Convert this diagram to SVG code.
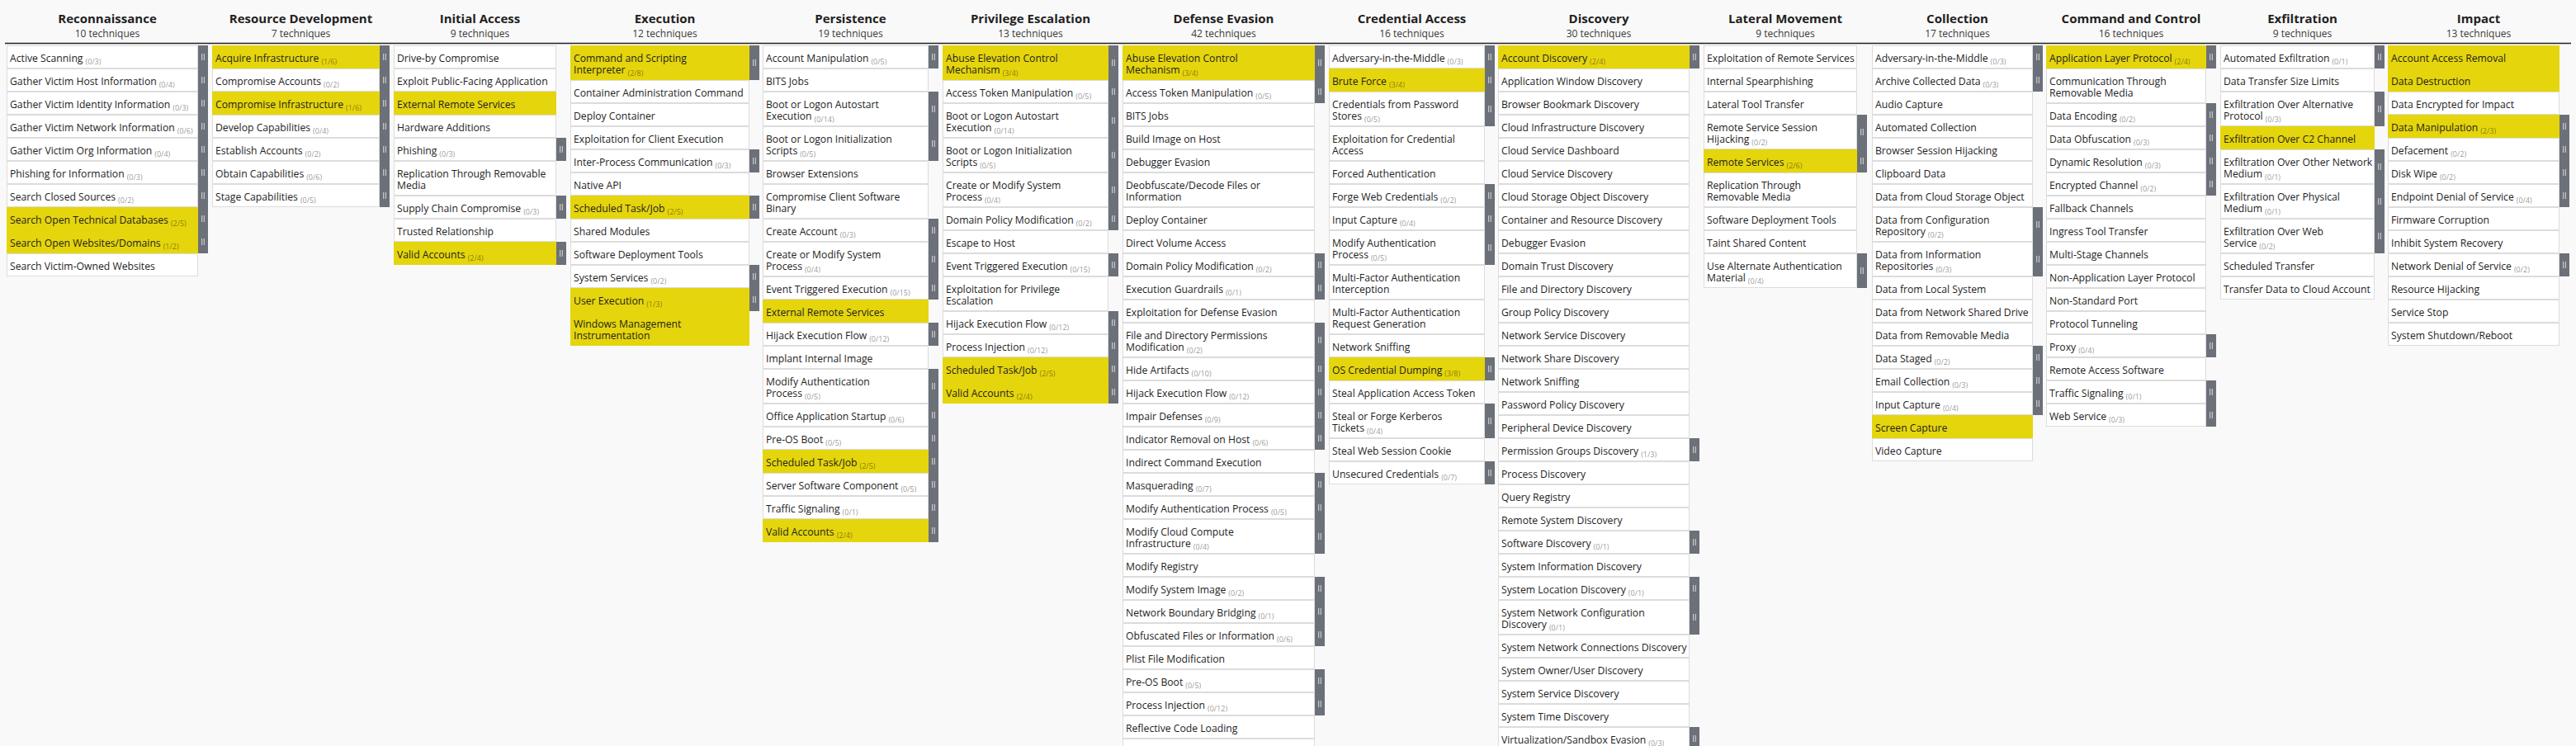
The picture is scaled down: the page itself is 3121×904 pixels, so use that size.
<svg xmlns="http://www.w3.org/2000/svg" width="3121" height="904" viewBox="0 0 3121 904">
<style>
.c{fill:#fff;stroke:#dcdcdc;stroke-width:1}
.y{fill:#e5d50c}
.sb{fill:#6c7079}
text{font-family:"Open Sans","Noto Sans",sans-serif}
.t{font-size:12.2px;fill:#1e1e1e}
.n{font-size:9px;fill:#000;fill-opacity:.45}
.h{font-size:15px;font-weight:700;text-anchor:middle;fill:#212121}
.s{font-size:12px;text-anchor:middle;fill:#3a3a3a}
</style>
<defs><g id="g"><path d="M-1.3-4v8M1.3-4v8" stroke="#dadada" stroke-width="1" fill="none"/></g></defs>
<rect width="3121" height="904" fill="#f9f9f9"/>
<line x1="6" y1="52.5" x2="3115" y2="52.5" stroke="#222" stroke-width="1.5"/>

<g id="col-reconnaissance" transform="translate(8,0)">
<g id="h-reconnaissance"><text class="h" x="122" y="28">Reconnaissance</text><text class="s" x="122" y="45">10 techniques</text></g>
<g id="rc-1" transform="translate(0,55)"><rect class="c" x=".5" y=".5" width="231" height="27"/><rect class="sb" x="232" width="12" height="28"/><use href="#g" x="238" y="14"/><text class="t" x="4" y="19.5">Active Scanning<tspan class="n" dx="3" dy="3">(0/3)</tspan></text></g>
<g id="rc-2" transform="translate(0,83)"><rect class="c" x=".5" y=".5" width="231" height="27"/><rect class="sb" x="232" width="12" height="28"/><use href="#g" x="238" y="14"/><text class="t" x="4" y="19.5">Gather Victim Host Information<tspan class="n" dx="3" dy="3">(0/4)</tspan></text></g>
<g id="rc-3" transform="translate(0,111)"><rect class="c" x=".5" y=".5" width="231" height="27"/><rect class="sb" x="232" width="12" height="28"/><use href="#g" x="238" y="14"/><text class="t" x="4" y="19.5">Gather Victim Identity Information<tspan class="n" dx="3" dy="3">(0/3)</tspan></text></g>
<g id="rc-4" transform="translate(0,139)"><rect class="c" x=".5" y=".5" width="231" height="27"/><rect class="sb" x="232" width="12" height="28"/><use href="#g" x="238" y="14"/><text class="t" x="4" y="19.5">Gather Victim Network Information<tspan class="n" dx="3" dy="3">(0/6)</tspan></text></g>
<g id="rc-5" transform="translate(0,167)"><rect class="c" x=".5" y=".5" width="231" height="27"/><rect class="sb" x="232" width="12" height="28"/><use href="#g" x="238" y="14"/><text class="t" x="4" y="19.5">Gather Victim Org Information<tspan class="n" dx="3" dy="3">(0/4)</tspan></text></g>
<g id="rc-6" transform="translate(0,195)"><rect class="c" x=".5" y=".5" width="231" height="27"/><rect class="sb" x="232" width="12" height="28"/><use href="#g" x="238" y="14"/><text class="t" x="4" y="19.5">Phishing for Information<tspan class="n" dx="3" dy="3">(0/3)</tspan></text></g>
<g id="rc-7" transform="translate(0,223)"><rect class="c" x=".5" y=".5" width="231" height="27"/><rect class="sb" x="232" width="12" height="28"/><use href="#g" x="238" y="14"/><text class="t" x="4" y="19.5">Search Closed Sources<tspan class="n" dx="3" dy="3">(0/2)</tspan></text></g>
<g id="rc-8" transform="translate(0,251)"><rect class="y" width="232" height="28"/><rect class="sb" x="232" width="12" height="28"/><use href="#g" x="238" y="14"/><text class="t" x="4" y="19.5">Search Open Technical Databases<tspan class="n" dx="3" dy="3">(2/5)</tspan></text></g>
<g id="rc-9" transform="translate(0,279)"><rect class="y" width="232" height="28"/><rect class="sb" x="232" width="12" height="28"/><use href="#g" x="238" y="14"/><text class="t" x="4" y="19.5">Search Open Websites/Domains<tspan class="n" dx="3" dy="3">(1/2)</tspan></text></g>
<g id="rc-10" transform="translate(0,307)"><rect class="c" x=".5" y=".5" width="231" height="27"/><text class="t" x="4" y="19.5">Search Victim-Owned Websites</text></g>
</g>

<g id="col-resource-development" transform="translate(257,0)">
<g id="h-resource-development"><text class="h" x="107.5" y="28">Resource Development</text><text class="s" x="107.5" y="45">7 techniques</text></g>
<g id="rd-1" transform="translate(0,55)"><rect class="y" width="203" height="28"/><rect class="sb" x="203" width="12" height="28"/><use href="#g" x="209" y="14"/><text class="t" x="4" y="19.5">Acquire Infrastructure<tspan class="n" dx="3" dy="3">(1/6)</tspan></text></g>
<g id="rd-2" transform="translate(0,83)"><rect class="c" x=".5" y=".5" width="202" height="27"/><rect class="sb" x="203" width="12" height="28"/><use href="#g" x="209" y="14"/><text class="t" x="4" y="19.5">Compromise Accounts<tspan class="n" dx="3" dy="3">(0/2)</tspan></text></g>
<g id="rd-3" transform="translate(0,111)"><rect class="y" width="203" height="28"/><rect class="sb" x="203" width="12" height="28"/><use href="#g" x="209" y="14"/><text class="t" x="4" y="19.5">Compromise Infrastructure<tspan class="n" dx="3" dy="3">(1/6)</tspan></text></g>
<g id="rd-4" transform="translate(0,139)"><rect class="c" x=".5" y=".5" width="202" height="27"/><rect class="sb" x="203" width="12" height="28"/><use href="#g" x="209" y="14"/><text class="t" x="4" y="19.5">Develop Capabilities<tspan class="n" dx="3" dy="3">(0/4)</tspan></text></g>
<g id="rd-5" transform="translate(0,167)"><rect class="c" x=".5" y=".5" width="202" height="27"/><rect class="sb" x="203" width="12" height="28"/><use href="#g" x="209" y="14"/><text class="t" x="4" y="19.5">Establish Accounts<tspan class="n" dx="3" dy="3">(0/2)</tspan></text></g>
<g id="rd-6" transform="translate(0,195)"><rect class="c" x=".5" y=".5" width="202" height="27"/><rect class="sb" x="203" width="12" height="28"/><use href="#g" x="209" y="14"/><text class="t" x="4" y="19.5">Obtain Capabilities<tspan class="n" dx="3" dy="3">(0/6)</tspan></text></g>
<g id="rd-7" transform="translate(0,223)"><rect class="c" x=".5" y=".5" width="202" height="27"/><rect class="sb" x="203" width="12" height="28"/><use href="#g" x="209" y="14"/><text class="t" x="4" y="19.5">Stage Capabilities<tspan class="n" dx="3" dy="3">(0/5)</tspan></text></g>
</g>

<g id="col-initial-access" transform="translate(477,0)">
<g id="h-initial-access"><text class="h" x="104.5" y="28">Initial Access</text><text class="s" x="104.5" y="45">9 techniques</text></g>
<g id="ia-1" transform="translate(0,55)"><rect class="c" x=".5" y=".5" width="196" height="27"/><text class="t" x="4" y="19.5">Drive-by Compromise</text></g>
<g id="ia-2" transform="translate(0,83)"><rect class="c" x=".5" y=".5" width="196" height="27"/><text class="t" x="4" y="19.5">Exploit Public-Facing Application</text></g>
<g id="ia-3" transform="translate(0,111)"><rect class="y" width="197" height="28"/><text class="t" x="4" y="19.5">External Remote Services</text></g>
<g id="ia-4" transform="translate(0,139)"><rect class="c" x=".5" y=".5" width="196" height="27"/><text class="t" x="4" y="19.5">Hardware Additions</text></g>
<g id="ia-5" transform="translate(0,167)"><rect class="c" x=".5" y=".5" width="196" height="27"/><rect class="sb" x="197" width="12" height="28"/><use href="#g" x="203" y="14"/><text class="t" x="4" y="19.5">Phishing<tspan class="n" dx="3" dy="3">(0/3)</tspan></text></g>
<g id="ia-6" transform="translate(0,195)"><rect class="c" x=".5" y=".5" width="196" height="41"/><text class="t" x="4" y="19.5">Replication Through Removable<tspan x="4" dy="14">Media</tspan></text></g>
<g id="ia-7" transform="translate(0,237)"><rect class="c" x=".5" y=".5" width="196" height="27"/><rect class="sb" x="197" width="12" height="28"/><use href="#g" x="203" y="14"/><text class="t" x="4" y="19.5">Supply Chain Compromise<tspan class="n" dx="3" dy="3">(0/3)</tspan></text></g>
<g id="ia-8" transform="translate(0,265)"><rect class="c" x=".5" y=".5" width="196" height="27"/><text class="t" x="4" y="19.5">Trusted Relationship</text></g>
<g id="ia-9" transform="translate(0,293)"><rect class="y" width="197" height="28"/><rect class="sb" x="197" width="12" height="28"/><use href="#g" x="203" y="14"/><text class="t" x="4" y="19.5">Valid Accounts<tspan class="n" dx="3" dy="3">(2/4)</tspan></text></g>
</g>

<g id="col-execution" transform="translate(691,0)">
<g id="h-execution"><text class="h" x="114.5" y="28">Execution</text><text class="s" x="114.5" y="45">12 techniques</text></g>
<g id="ex-1" transform="translate(0,55)"><rect class="y" width="217" height="42"/><rect class="sb" x="217" width="12" height="42"/><use href="#g" x="223" y="21"/><text class="t" x="4" y="19.5">Command and Scripting<tspan x="4" dy="14">Interpreter<tspan class="n" dx="3" dy="3">(2/8)</tspan></tspan></text></g>
<g id="ex-2" transform="translate(0,97)"><rect class="c" x=".5" y=".5" width="216" height="27"/><text class="t" x="4" y="19.5">Container Administration Command</text></g>
<g id="ex-3" transform="translate(0,125)"><rect class="c" x=".5" y=".5" width="216" height="27"/><text class="t" x="4" y="19.5">Deploy Container</text></g>
<g id="ex-4" transform="translate(0,153)"><rect class="c" x=".5" y=".5" width="216" height="27"/><text class="t" x="4" y="19.5">Exploitation for Client Execution</text></g>
<g id="ex-5" transform="translate(0,181)"><rect class="c" x=".5" y=".5" width="216" height="27"/><rect class="sb" x="217" width="12" height="28"/><use href="#g" x="223" y="14"/><text class="t" x="4" y="19.5">Inter-Process Communication<tspan class="n" dx="3" dy="3">(0/3)</tspan></text></g>
<g id="ex-6" transform="translate(0,209)"><rect class="c" x=".5" y=".5" width="216" height="27"/><text class="t" x="4" y="19.5">Native API</text></g>
<g id="ex-7" transform="translate(0,237)"><rect class="y" width="217" height="28"/><rect class="sb" x="217" width="12" height="28"/><use href="#g" x="223" y="14"/><text class="t" x="4" y="19.5">Scheduled Task/Job<tspan class="n" dx="3" dy="3">(2/5)</tspan></text></g>
<g id="ex-8" transform="translate(0,265)"><rect class="c" x=".5" y=".5" width="216" height="27"/><text class="t" x="4" y="19.5">Shared Modules</text></g>
<g id="ex-9" transform="translate(0,293)"><rect class="c" x=".5" y=".5" width="216" height="27"/><text class="t" x="4" y="19.5">Software Deployment Tools</text></g>
<g id="ex-10" transform="translate(0,321)"><rect class="c" x=".5" y=".5" width="216" height="27"/><rect class="sb" x="217" width="12" height="28"/><use href="#g" x="223" y="14"/><text class="t" x="4" y="19.5">System Services<tspan class="n" dx="3" dy="3">(0/2)</tspan></text></g>
<g id="ex-11" transform="translate(0,349)"><rect class="y" width="217" height="28"/><rect class="sb" x="217" width="12" height="28"/><use href="#g" x="223" y="14"/><text class="t" x="4" y="19.5">User Execution<tspan class="n" dx="3" dy="3">(1/3)</tspan></text></g>
<g id="ex-12" transform="translate(0,377)"><rect class="y" width="217" height="42"/><text class="t" x="4" y="19.5">Windows Management<tspan x="4" dy="14">Instrumentation</tspan></text></g>
</g>

<g id="col-persistence" transform="translate(924,0)">
<g id="h-persistence"><text class="h" x="106.5" y="28">Persistence</text><text class="s" x="106.5" y="45">19 techniques</text></g>
<g id="ps-1" transform="translate(0,55)"><rect class="c" x=".5" y=".5" width="200" height="27"/><rect class="sb" x="201" width="12" height="28"/><use href="#g" x="207" y="14"/><text class="t" x="4" y="19.5">Account Manipulation<tspan class="n" dx="3" dy="3">(0/5)</tspan></text></g>
<g id="ps-2" transform="translate(0,83)"><rect class="c" x=".5" y=".5" width="200" height="27"/><text class="t" x="4" y="19.5">BITS Jobs</text></g>
<g id="ps-3" transform="translate(0,111)"><rect class="c" x=".5" y=".5" width="200" height="41"/><rect class="sb" x="201" width="12" height="42"/><use href="#g" x="207" y="21"/><text class="t" x="4" y="19.5">Boot or Logon Autostart<tspan x="4" dy="14">Execution<tspan class="n" dx="3" dy="3">(0/14)</tspan></tspan></text></g>
<g id="ps-4" transform="translate(0,153)"><rect class="c" x=".5" y=".5" width="200" height="41"/><rect class="sb" x="201" width="12" height="42"/><use href="#g" x="207" y="21"/><text class="t" x="4" y="19.5">Boot or Logon Initialization<tspan x="4" dy="14">Scripts<tspan class="n" dx="3" dy="3">(0/5)</tspan></tspan></text></g>
<g id="ps-5" transform="translate(0,195)"><rect class="c" x=".5" y=".5" width="200" height="27"/><text class="t" x="4" y="19.5">Browser Extensions</text></g>
<g id="ps-6" transform="translate(0,223)"><rect class="c" x=".5" y=".5" width="200" height="41"/><text class="t" x="4" y="19.5">Compromise Client Software<tspan x="4" dy="14">Binary</tspan></text></g>
<g id="ps-7" transform="translate(0,265)"><rect class="c" x=".5" y=".5" width="200" height="27"/><rect class="sb" x="201" width="12" height="28"/><use href="#g" x="207" y="14"/><text class="t" x="4" y="19.5">Create Account<tspan class="n" dx="3" dy="3">(0/3)</tspan></text></g>
<g id="ps-8" transform="translate(0,293)"><rect class="c" x=".5" y=".5" width="200" height="41"/><rect class="sb" x="201" width="12" height="42"/><use href="#g" x="207" y="21"/><text class="t" x="4" y="19.5">Create or Modify System<tspan x="4" dy="14">Process<tspan class="n" dx="3" dy="3">(0/4)</tspan></tspan></text></g>
<g id="ps-9" transform="translate(0,335)"><rect class="c" x=".5" y=".5" width="200" height="27"/><rect class="sb" x="201" width="12" height="28"/><use href="#g" x="207" y="14"/><text class="t" x="4" y="19.5">Event Triggered Execution<tspan class="n" dx="3" dy="3">(0/15)</tspan></text></g>
<g id="ps-10" transform="translate(0,363)"><rect class="y" width="201" height="28"/><text class="t" x="4" y="19.5">External Remote Services</text></g>
<g id="ps-11" transform="translate(0,391)"><rect class="c" x=".5" y=".5" width="200" height="27"/><rect class="sb" x="201" width="12" height="28"/><use href="#g" x="207" y="14"/><text class="t" x="4" y="19.5">Hijack Execution Flow<tspan class="n" dx="3" dy="3">(0/12)</tspan></text></g>
<g id="ps-12" transform="translate(0,419)"><rect class="c" x=".5" y=".5" width="200" height="27"/><text class="t" x="4" y="19.5">Implant Internal Image</text></g>
<g id="ps-13" transform="translate(0,447)"><rect class="c" x=".5" y=".5" width="200" height="41"/><rect class="sb" x="201" width="12" height="42"/><use href="#g" x="207" y="21"/><text class="t" x="4" y="19.5">Modify Authentication<tspan x="4" dy="14">Process<tspan class="n" dx="3" dy="3">(0/5)</tspan></tspan></text></g>
<g id="ps-14" transform="translate(0,489)"><rect class="c" x=".5" y=".5" width="200" height="27"/><rect class="sb" x="201" width="12" height="28"/><use href="#g" x="207" y="14"/><text class="t" x="4" y="19.5">Office Application Startup<tspan class="n" dx="3" dy="3">(0/6)</tspan></text></g>
<g id="ps-15" transform="translate(0,517)"><rect class="c" x=".5" y=".5" width="200" height="27"/><rect class="sb" x="201" width="12" height="28"/><use href="#g" x="207" y="14"/><text class="t" x="4" y="19.5">Pre-OS Boot<tspan class="n" dx="3" dy="3">(0/5)</tspan></text></g>
<g id="ps-16" transform="translate(0,545)"><rect class="y" width="201" height="28"/><rect class="sb" x="201" width="12" height="28"/><use href="#g" x="207" y="14"/><text class="t" x="4" y="19.5">Scheduled Task/Job<tspan class="n" dx="3" dy="3">(2/5)</tspan></text></g>
<g id="ps-17" transform="translate(0,573)"><rect class="c" x=".5" y=".5" width="200" height="27"/><rect class="sb" x="201" width="12" height="28"/><use href="#g" x="207" y="14"/><text class="t" x="4" y="19.5">Server Software Component<tspan class="n" dx="3" dy="3">(0/5)</tspan></text></g>
<g id="ps-18" transform="translate(0,601)"><rect class="c" x=".5" y=".5" width="200" height="27"/><rect class="sb" x="201" width="12" height="28"/><use href="#g" x="207" y="14"/><text class="t" x="4" y="19.5">Traffic Signaling<tspan class="n" dx="3" dy="3">(0/1)</tspan></text></g>
<g id="ps-19" transform="translate(0,629)"><rect class="y" width="201" height="28"/><rect class="sb" x="201" width="12" height="28"/><use href="#g" x="207" y="14"/><text class="t" x="4" y="19.5">Valid Accounts<tspan class="n" dx="3" dy="3">(2/4)</tspan></text></g>
</g>

<g id="col-privilege-escalation" transform="translate(1142,0)">
<g id="h-privilege-escalation"><text class="h" x="106.5" y="28">Privilege Escalation</text><text class="s" x="106.5" y="45">13 techniques</text></g>
<g id="pr-1" transform="translate(0,55)"><rect class="y" width="201" height="42"/><rect class="sb" x="201" width="12" height="42"/><use href="#g" x="207" y="21"/><text class="t" x="4" y="19.5">Abuse Elevation Control<tspan x="4" dy="14">Mechanism<tspan class="n" dx="3" dy="3">(3/4)</tspan></tspan></text></g>
<g id="pr-2" transform="translate(0,97)"><rect class="c" x=".5" y=".5" width="200" height="27"/><rect class="sb" x="201" width="12" height="28"/><use href="#g" x="207" y="14"/><text class="t" x="4" y="19.5">Access Token Manipulation<tspan class="n" dx="3" dy="3">(0/5)</tspan></text></g>
<g id="pr-3" transform="translate(0,125)"><rect class="c" x=".5" y=".5" width="200" height="41"/><rect class="sb" x="201" width="12" height="42"/><use href="#g" x="207" y="21"/><text class="t" x="4" y="19.5">Boot or Logon Autostart<tspan x="4" dy="14">Execution<tspan class="n" dx="3" dy="3">(0/14)</tspan></tspan></text></g>
<g id="pr-4" transform="translate(0,167)"><rect class="c" x=".5" y=".5" width="200" height="41"/><rect class="sb" x="201" width="12" height="42"/><use href="#g" x="207" y="21"/><text class="t" x="4" y="19.5">Boot or Logon Initialization<tspan x="4" dy="14">Scripts<tspan class="n" dx="3" dy="3">(0/5)</tspan></tspan></text></g>
<g id="pr-5" transform="translate(0,209)"><rect class="c" x=".5" y=".5" width="200" height="41"/><rect class="sb" x="201" width="12" height="42"/><use href="#g" x="207" y="21"/><text class="t" x="4" y="19.5">Create or Modify System<tspan x="4" dy="14">Process<tspan class="n" dx="3" dy="3">(0/4)</tspan></tspan></text></g>
<g id="pr-6" transform="translate(0,251)"><rect class="c" x=".5" y=".5" width="200" height="27"/><rect class="sb" x="201" width="12" height="28"/><use href="#g" x="207" y="14"/><text class="t" x="4" y="19.5">Domain Policy Modification<tspan class="n" dx="3" dy="3">(0/2)</tspan></text></g>
<g id="pr-7" transform="translate(0,279)"><rect class="c" x=".5" y=".5" width="200" height="27"/><text class="t" x="4" y="19.5">Escape to Host</text></g>
<g id="pr-8" transform="translate(0,307)"><rect class="c" x=".5" y=".5" width="200" height="27"/><rect class="sb" x="201" width="12" height="28"/><use href="#g" x="207" y="14"/><text class="t" x="4" y="19.5">Event Triggered Execution<tspan class="n" dx="3" dy="3">(0/15)</tspan></text></g>
<g id="pr-9" transform="translate(0,335)"><rect class="c" x=".5" y=".5" width="200" height="41"/><text class="t" x="4" y="19.5">Exploitation for Privilege<tspan x="4" dy="14">Escalation</tspan></text></g>
<g id="pr-10" transform="translate(0,377)"><rect class="c" x=".5" y=".5" width="200" height="27"/><rect class="sb" x="201" width="12" height="28"/><use href="#g" x="207" y="14"/><text class="t" x="4" y="19.5">Hijack Execution Flow<tspan class="n" dx="3" dy="3">(0/12)</tspan></text></g>
<g id="pr-11" transform="translate(0,405)"><rect class="c" x=".5" y=".5" width="200" height="27"/><rect class="sb" x="201" width="12" height="28"/><use href="#g" x="207" y="14"/><text class="t" x="4" y="19.5">Process Injection<tspan class="n" dx="3" dy="3">(0/12)</tspan></text></g>
<g id="pr-12" transform="translate(0,433)"><rect class="y" width="201" height="28"/><rect class="sb" x="201" width="12" height="28"/><use href="#g" x="207" y="14"/><text class="t" x="4" y="19.5">Scheduled Task/Job<tspan class="n" dx="3" dy="3">(2/5)</tspan></text></g>
<g id="pr-13" transform="translate(0,461)"><rect class="y" width="201" height="28"/><rect class="sb" x="201" width="12" height="28"/><use href="#g" x="207" y="14"/><text class="t" x="4" y="19.5">Valid Accounts<tspan class="n" dx="3" dy="3">(2/4)</tspan></text></g>
</g>

<g id="col-defense-evasion" transform="translate(1360,0)">
<g id="h-defense-evasion"><text class="h" x="122.5" y="28">Defense Evasion</text><text class="s" x="122.5" y="45">42 techniques</text></g>
<g id="de-1" transform="translate(0,55)"><rect class="y" width="233" height="42"/><rect class="sb" x="233" width="12" height="42"/><use href="#g" x="239" y="21"/><text class="t" x="4" y="19.5">Abuse Elevation Control<tspan x="4" dy="14">Mechanism<tspan class="n" dx="3" dy="3">(3/4)</tspan></tspan></text></g>
<g id="de-2" transform="translate(0,97)"><rect class="c" x=".5" y=".5" width="232" height="27"/><rect class="sb" x="233" width="12" height="28"/><use href="#g" x="239" y="14"/><text class="t" x="4" y="19.5">Access Token Manipulation<tspan class="n" dx="3" dy="3">(0/5)</tspan></text></g>
<g id="de-3" transform="translate(0,125)"><rect class="c" x=".5" y=".5" width="232" height="27"/><text class="t" x="4" y="19.5">BITS Jobs</text></g>
<g id="de-4" transform="translate(0,153)"><rect class="c" x=".5" y=".5" width="232" height="27"/><text class="t" x="4" y="19.5">Build Image on Host</text></g>
<g id="de-5" transform="translate(0,181)"><rect class="c" x=".5" y=".5" width="232" height="27"/><text class="t" x="4" y="19.5">Debugger Evasion</text></g>
<g id="de-6" transform="translate(0,209)"><rect class="c" x=".5" y=".5" width="232" height="41"/><text class="t" x="4" y="19.5">Deobfuscate/Decode Files or<tspan x="4" dy="14">Information</tspan></text></g>
<g id="de-7" transform="translate(0,251)"><rect class="c" x=".5" y=".5" width="232" height="27"/><text class="t" x="4" y="19.5">Deploy Container</text></g>
<g id="de-8" transform="translate(0,279)"><rect class="c" x=".5" y=".5" width="232" height="27"/><text class="t" x="4" y="19.5">Direct Volume Access</text></g>
<g id="de-9" transform="translate(0,307)"><rect class="c" x=".5" y=".5" width="232" height="27"/><rect class="sb" x="233" width="12" height="28"/><use href="#g" x="239" y="14"/><text class="t" x="4" y="19.5">Domain Policy Modification<tspan class="n" dx="3" dy="3">(0/2)</tspan></text></g>
<g id="de-10" transform="translate(0,335)"><rect class="c" x=".5" y=".5" width="232" height="27"/><rect class="sb" x="233" width="12" height="28"/><use href="#g" x="239" y="14"/><text class="t" x="4" y="19.5">Execution Guardrails<tspan class="n" dx="3" dy="3">(0/1)</tspan></text></g>
<g id="de-11" transform="translate(0,363)"><rect class="c" x=".5" y=".5" width="232" height="27"/><text class="t" x="4" y="19.5">Exploitation for Defense Evasion</text></g>
<g id="de-12" transform="translate(0,391)"><rect class="c" x=".5" y=".5" width="232" height="41"/><rect class="sb" x="233" width="12" height="42"/><use href="#g" x="239" y="21"/><text class="t" x="4" y="19.5">File and Directory Permissions<tspan x="4" dy="14">Modification<tspan class="n" dx="3" dy="3">(0/2)</tspan></tspan></text></g>
<g id="de-13" transform="translate(0,433)"><rect class="c" x=".5" y=".5" width="232" height="27"/><rect class="sb" x="233" width="12" height="28"/><use href="#g" x="239" y="14"/><text class="t" x="4" y="19.5">Hide Artifacts<tspan class="n" dx="3" dy="3">(0/10)</tspan></text></g>
<g id="de-14" transform="translate(0,461)"><rect class="c" x=".5" y=".5" width="232" height="27"/><rect class="sb" x="233" width="12" height="28"/><use href="#g" x="239" y="14"/><text class="t" x="4" y="19.5">Hijack Execution Flow<tspan class="n" dx="3" dy="3">(0/12)</tspan></text></g>
<g id="de-15" transform="translate(0,489)"><rect class="c" x=".5" y=".5" width="232" height="27"/><rect class="sb" x="233" width="12" height="28"/><use href="#g" x="239" y="14"/><text class="t" x="4" y="19.5">Impair Defenses<tspan class="n" dx="3" dy="3">(0/9)</tspan></text></g>
<g id="de-16" transform="translate(0,517)"><rect class="c" x=".5" y=".5" width="232" height="27"/><rect class="sb" x="233" width="12" height="28"/><use href="#g" x="239" y="14"/><text class="t" x="4" y="19.5">Indicator Removal on Host<tspan class="n" dx="3" dy="3">(0/6)</tspan></text></g>
<g id="de-17" transform="translate(0,545)"><rect class="c" x=".5" y=".5" width="232" height="27"/><text class="t" x="4" y="19.5">Indirect Command Execution</text></g>
<g id="de-18" transform="translate(0,573)"><rect class="c" x=".5" y=".5" width="232" height="27"/><rect class="sb" x="233" width="12" height="28"/><use href="#g" x="239" y="14"/><text class="t" x="4" y="19.5">Masquerading<tspan class="n" dx="3" dy="3">(0/7)</tspan></text></g>
<g id="de-19" transform="translate(0,601)"><rect class="c" x=".5" y=".5" width="232" height="27"/><rect class="sb" x="233" width="12" height="28"/><use href="#g" x="239" y="14"/><text class="t" x="4" y="19.5">Modify Authentication Process<tspan class="n" dx="3" dy="3">(0/5)</tspan></text></g>
<g id="de-20" transform="translate(0,629)"><rect class="c" x=".5" y=".5" width="232" height="41"/><rect class="sb" x="233" width="12" height="42"/><use href="#g" x="239" y="21"/><text class="t" x="4" y="19.5">Modify Cloud Compute<tspan x="4" dy="14">Infrastructure<tspan class="n" dx="3" dy="3">(0/4)</tspan></tspan></text></g>
<g id="de-21" transform="translate(0,671)"><rect class="c" x=".5" y=".5" width="232" height="27"/><text class="t" x="4" y="19.5">Modify Registry</text></g>
<g id="de-22" transform="translate(0,699)"><rect class="c" x=".5" y=".5" width="232" height="27"/><rect class="sb" x="233" width="12" height="28"/><use href="#g" x="239" y="14"/><text class="t" x="4" y="19.5">Modify System Image<tspan class="n" dx="3" dy="3">(0/2)</tspan></text></g>
<g id="de-23" transform="translate(0,727)"><rect class="c" x=".5" y=".5" width="232" height="27"/><rect class="sb" x="233" width="12" height="28"/><use href="#g" x="239" y="14"/><text class="t" x="4" y="19.5">Network Boundary Bridging<tspan class="n" dx="3" dy="3">(0/1)</tspan></text></g>
<g id="de-24" transform="translate(0,755)"><rect class="c" x=".5" y=".5" width="232" height="27"/><rect class="sb" x="233" width="12" height="28"/><use href="#g" x="239" y="14"/><text class="t" x="4" y="19.5">Obfuscated Files or Information<tspan class="n" dx="3" dy="3">(0/6)</tspan></text></g>
<g id="de-25" transform="translate(0,783)"><rect class="c" x=".5" y=".5" width="232" height="27"/><text class="t" x="4" y="19.5">Plist File Modification</text></g>
<g id="de-26" transform="translate(0,811)"><rect class="c" x=".5" y=".5" width="232" height="27"/><rect class="sb" x="233" width="12" height="28"/><use href="#g" x="239" y="14"/><text class="t" x="4" y="19.5">Pre-OS Boot<tspan class="n" dx="3" dy="3">(0/5)</tspan></text></g>
<g id="de-27" transform="translate(0,839)"><rect class="c" x=".5" y=".5" width="232" height="27"/><rect class="sb" x="233" width="12" height="28"/><use href="#g" x="239" y="14"/><text class="t" x="4" y="19.5">Process Injection<tspan class="n" dx="3" dy="3">(0/12)</tspan></text></g>
<g id="de-28" transform="translate(0,867)"><rect class="c" x=".5" y=".5" width="232" height="27"/><text class="t" x="4" y="19.5">Reflective Code Loading</text></g>
<g id="de-29" transform="translate(0,895)"><rect class="c" x=".5" y=".5" width="232" height="27"/></g>
</g>

<g id="col-credential-access" transform="translate(1610,0)">
<g id="h-credential-access"><text class="h" x="100.5" y="28">Credential Access</text><text class="s" x="100.5" y="45">16 techniques</text></g>
<g id="ca-1" transform="translate(0,55)"><rect class="c" x=".5" y=".5" width="188" height="27"/><rect class="sb" x="189" width="12" height="28"/><use href="#g" x="195" y="14"/><text class="t" x="4" y="19.5">Adversary-in-the-Middle<tspan class="n" dx="3" dy="3">(0/3)</tspan></text></g>
<g id="ca-2" transform="translate(0,83)"><rect class="y" width="189" height="28"/><rect class="sb" x="189" width="12" height="28"/><use href="#g" x="195" y="14"/><text class="t" x="4" y="19.5">Brute Force<tspan class="n" dx="3" dy="3">(3/4)</tspan></text></g>
<g id="ca-3" transform="translate(0,111)"><rect class="c" x=".5" y=".5" width="188" height="41"/><rect class="sb" x="189" width="12" height="42"/><use href="#g" x="195" y="21"/><text class="t" x="4" y="19.5">Credentials from Password<tspan x="4" dy="14">Stores<tspan class="n" dx="3" dy="3">(0/5)</tspan></tspan></text></g>
<g id="ca-4" transform="translate(0,153)"><rect class="c" x=".5" y=".5" width="188" height="41"/><text class="t" x="4" y="19.5">Exploitation for Credential<tspan x="4" dy="14">Access</tspan></text></g>
<g id="ca-5" transform="translate(0,195)"><rect class="c" x=".5" y=".5" width="188" height="27"/><text class="t" x="4" y="19.5">Forced Authentication</text></g>
<g id="ca-6" transform="translate(0,223)"><rect class="c" x=".5" y=".5" width="188" height="27"/><rect class="sb" x="189" width="12" height="28"/><use href="#g" x="195" y="14"/><text class="t" x="4" y="19.5">Forge Web Credentials<tspan class="n" dx="3" dy="3">(0/2)</tspan></text></g>
<g id="ca-7" transform="translate(0,251)"><rect class="c" x=".5" y=".5" width="188" height="27"/><rect class="sb" x="189" width="12" height="28"/><use href="#g" x="195" y="14"/><text class="t" x="4" y="19.5">Input Capture<tspan class="n" dx="3" dy="3">(0/4)</tspan></text></g>
<g id="ca-8" transform="translate(0,279)"><rect class="c" x=".5" y=".5" width="188" height="41"/><rect class="sb" x="189" width="12" height="42"/><use href="#g" x="195" y="21"/><text class="t" x="4" y="19.5">Modify Authentication<tspan x="4" dy="14">Process<tspan class="n" dx="3" dy="3">(0/5)</tspan></tspan></text></g>
<g id="ca-9" transform="translate(0,321)"><rect class="c" x=".5" y=".5" width="188" height="41"/><text class="t" x="4" y="19.5">Multi-Factor Authentication<tspan x="4" dy="14">Interception</tspan></text></g>
<g id="ca-10" transform="translate(0,363)"><rect class="c" x=".5" y=".5" width="188" height="41"/><text class="t" x="4" y="19.5">Multi-Factor Authentication<tspan x="4" dy="14">Request Generation</tspan></text></g>
<g id="ca-11" transform="translate(0,405)"><rect class="c" x=".5" y=".5" width="188" height="27"/><text class="t" x="4" y="19.5">Network Sniffing</text></g>
<g id="ca-12" transform="translate(0,433)"><rect class="y" width="189" height="28"/><rect class="sb" x="189" width="12" height="28"/><use href="#g" x="195" y="14"/><text class="t" x="4" y="19.5">OS Credential Dumping<tspan class="n" dx="3" dy="3">(3/8)</tspan></text></g>
<g id="ca-13" transform="translate(0,461)"><rect class="c" x=".5" y=".5" width="188" height="27"/><text class="t" x="4" y="19.5">Steal Application Access Token</text></g>
<g id="ca-14" transform="translate(0,489)"><rect class="c" x=".5" y=".5" width="188" height="41"/><rect class="sb" x="189" width="12" height="42"/><use href="#g" x="195" y="21"/><text class="t" x="4" y="19.5">Steal or Forge Kerberos<tspan x="4" dy="14">Tickets<tspan class="n" dx="3" dy="3">(0/4)</tspan></tspan></text></g>
<g id="ca-15" transform="translate(0,531)"><rect class="c" x=".5" y=".5" width="188" height="27"/><text class="t" x="4" y="19.5">Steal Web Session Cookie</text></g>
<g id="ca-16" transform="translate(0,559)"><rect class="c" x=".5" y=".5" width="188" height="27"/><rect class="sb" x="189" width="12" height="28"/><use href="#g" x="195" y="14"/><text class="t" x="4" y="19.5">Unsecured Credentials<tspan class="n" dx="3" dy="3">(0/7)</tspan></text></g>
</g>

<g id="col-discovery" transform="translate(1815,0)">
<g id="h-discovery"><text class="h" x="122" y="28">Discovery</text><text class="s" x="122" y="45">30 techniques</text></g>
<g id="di-1" transform="translate(0,55)"><rect class="y" width="232" height="28"/><rect class="sb" x="232" width="12" height="28"/><use href="#g" x="238" y="14"/><text class="t" x="4" y="19.5">Account Discovery<tspan class="n" dx="3" dy="3">(2/4)</tspan></text></g>
<g id="di-2" transform="translate(0,83)"><rect class="c" x=".5" y=".5" width="231" height="27"/><text class="t" x="4" y="19.5">Application Window Discovery</text></g>
<g id="di-3" transform="translate(0,111)"><rect class="c" x=".5" y=".5" width="231" height="27"/><text class="t" x="4" y="19.5">Browser Bookmark Discovery</text></g>
<g id="di-4" transform="translate(0,139)"><rect class="c" x=".5" y=".5" width="231" height="27"/><text class="t" x="4" y="19.5">Cloud Infrastructure Discovery</text></g>
<g id="di-5" transform="translate(0,167)"><rect class="c" x=".5" y=".5" width="231" height="27"/><text class="t" x="4" y="19.5">Cloud Service Dashboard</text></g>
<g id="di-6" transform="translate(0,195)"><rect class="c" x=".5" y=".5" width="231" height="27"/><text class="t" x="4" y="19.5">Cloud Service Discovery</text></g>
<g id="di-7" transform="translate(0,223)"><rect class="c" x=".5" y=".5" width="231" height="27"/><text class="t" x="4" y="19.5">Cloud Storage Object Discovery</text></g>
<g id="di-8" transform="translate(0,251)"><rect class="c" x=".5" y=".5" width="231" height="27"/><text class="t" x="4" y="19.5">Container and Resource Discovery</text></g>
<g id="di-9" transform="translate(0,279)"><rect class="c" x=".5" y=".5" width="231" height="27"/><text class="t" x="4" y="19.5">Debugger Evasion</text></g>
<g id="di-10" transform="translate(0,307)"><rect class="c" x=".5" y=".5" width="231" height="27"/><text class="t" x="4" y="19.5">Domain Trust Discovery</text></g>
<g id="di-11" transform="translate(0,335)"><rect class="c" x=".5" y=".5" width="231" height="27"/><text class="t" x="4" y="19.5">File and Directory Discovery</text></g>
<g id="di-12" transform="translate(0,363)"><rect class="c" x=".5" y=".5" width="231" height="27"/><text class="t" x="4" y="19.5">Group Policy Discovery</text></g>
<g id="di-13" transform="translate(0,391)"><rect class="c" x=".5" y=".5" width="231" height="27"/><text class="t" x="4" y="19.5">Network Service Discovery</text></g>
<g id="di-14" transform="translate(0,419)"><rect class="c" x=".5" y=".5" width="231" height="27"/><text class="t" x="4" y="19.5">Network Share Discovery</text></g>
<g id="di-15" transform="translate(0,447)"><rect class="c" x=".5" y=".5" width="231" height="27"/><text class="t" x="4" y="19.5">Network Sniffing</text></g>
<g id="di-16" transform="translate(0,475)"><rect class="c" x=".5" y=".5" width="231" height="27"/><text class="t" x="4" y="19.5">Password Policy Discovery</text></g>
<g id="di-17" transform="translate(0,503)"><rect class="c" x=".5" y=".5" width="231" height="27"/><text class="t" x="4" y="19.5">Peripheral Device Discovery</text></g>
<g id="di-18" transform="translate(0,531)"><rect class="c" x=".5" y=".5" width="231" height="27"/><rect class="sb" x="232" width="12" height="28"/><use href="#g" x="238" y="14"/><text class="t" x="4" y="19.5">Permission Groups Discovery<tspan class="n" dx="3" dy="3">(1/3)</tspan></text></g>
<g id="di-19" transform="translate(0,559)"><rect class="c" x=".5" y=".5" width="231" height="27"/><text class="t" x="4" y="19.5">Process Discovery</text></g>
<g id="di-20" transform="translate(0,587)"><rect class="c" x=".5" y=".5" width="231" height="27"/><text class="t" x="4" y="19.5">Query Registry</text></g>
<g id="di-21" transform="translate(0,615)"><rect class="c" x=".5" y=".5" width="231" height="27"/><text class="t" x="4" y="19.5">Remote System Discovery</text></g>
<g id="di-22" transform="translate(0,643)"><rect class="c" x=".5" y=".5" width="231" height="27"/><rect class="sb" x="232" width="12" height="28"/><use href="#g" x="238" y="14"/><text class="t" x="4" y="19.5">Software Discovery<tspan class="n" dx="3" dy="3">(0/1)</tspan></text></g>
<g id="di-23" transform="translate(0,671)"><rect class="c" x=".5" y=".5" width="231" height="27"/><text class="t" x="4" y="19.5">System Information Discovery</text></g>
<g id="di-24" transform="translate(0,699)"><rect class="c" x=".5" y=".5" width="231" height="27"/><rect class="sb" x="232" width="12" height="28"/><use href="#g" x="238" y="14"/><text class="t" x="4" y="19.5">System Location Discovery<tspan class="n" dx="3" dy="3">(0/1)</tspan></text></g>
<g id="di-25" transform="translate(0,727)"><rect class="c" x=".5" y=".5" width="231" height="41"/><rect class="sb" x="232" width="12" height="42"/><use href="#g" x="238" y="21"/><text class="t" x="4" y="19.5">System Network Configuration<tspan x="4" dy="14">Discovery<tspan class="n" dx="3" dy="3">(0/1)</tspan></tspan></text></g>
<g id="di-26" transform="translate(0,769)"><rect class="c" x=".5" y=".5" width="231" height="27"/><text class="t" x="4" y="19.5">System Network Connections Discovery</text></g>
<g id="di-27" transform="translate(0,797)"><rect class="c" x=".5" y=".5" width="231" height="27"/><text class="t" x="4" y="19.5">System Owner/User Discovery</text></g>
<g id="di-28" transform="translate(0,825)"><rect class="c" x=".5" y=".5" width="231" height="27"/><text class="t" x="4" y="19.5">System Service Discovery</text></g>
<g id="di-29" transform="translate(0,853)"><rect class="c" x=".5" y=".5" width="231" height="27"/><text class="t" x="4" y="19.5">System Time Discovery</text></g>
<g id="di-30" transform="translate(0,881)"><rect class="c" x=".5" y=".5" width="231" height="27"/><rect class="sb" x="232" width="12" height="28"/><use href="#g" x="238" y="14"/><text class="t" x="4" y="19.5">Virtualization/Sandbox Evasion<tspan class="n" dx="3" dy="3">(0/3)</tspan></text></g>
</g>

<g id="col-lateral-movement" transform="translate(2064,0)">
<g id="h-lateral-movement"><text class="h" x="99" y="28">Lateral Movement</text><text class="s" x="99" y="45">9 techniques</text></g>
<g id="lm-1" transform="translate(0,55)"><rect class="c" x=".5" y=".5" width="185" height="27"/><text class="t" x="4" y="19.5">Exploitation of Remote Services</text></g>
<g id="lm-2" transform="translate(0,83)"><rect class="c" x=".5" y=".5" width="185" height="27"/><text class="t" x="4" y="19.5">Internal Spearphishing</text></g>
<g id="lm-3" transform="translate(0,111)"><rect class="c" x=".5" y=".5" width="185" height="27"/><text class="t" x="4" y="19.5">Lateral Tool Transfer</text></g>
<g id="lm-4" transform="translate(0,139)"><rect class="c" x=".5" y=".5" width="185" height="41"/><rect class="sb" x="186" width="12" height="42"/><use href="#g" x="192" y="21"/><text class="t" x="4" y="19.5">Remote Service Session<tspan x="4" dy="14">Hijacking<tspan class="n" dx="3" dy="3">(0/2)</tspan></tspan></text></g>
<g id="lm-5" transform="translate(0,181)"><rect class="y" width="186" height="28"/><rect class="sb" x="186" width="12" height="28"/><use href="#g" x="192" y="14"/><text class="t" x="4" y="19.5">Remote Services<tspan class="n" dx="3" dy="3">(2/6)</tspan></text></g>
<g id="lm-6" transform="translate(0,209)"><rect class="c" x=".5" y=".5" width="185" height="41"/><text class="t" x="4" y="19.5">Replication Through<tspan x="4" dy="14">Removable Media</tspan></text></g>
<g id="lm-7" transform="translate(0,251)"><rect class="c" x=".5" y=".5" width="185" height="27"/><text class="t" x="4" y="19.5">Software Deployment Tools</text></g>
<g id="lm-8" transform="translate(0,279)"><rect class="c" x=".5" y=".5" width="185" height="27"/><text class="t" x="4" y="19.5">Taint Shared Content</text></g>
<g id="lm-9" transform="translate(0,307)"><rect class="c" x=".5" y=".5" width="185" height="41"/><rect class="sb" x="186" width="12" height="42"/><use href="#g" x="192" y="21"/><text class="t" x="4" y="19.5">Use Alternate Authentication<tspan x="4" dy="14">Material<tspan class="n" dx="3" dy="3">(0/4)</tspan></tspan></text></g>
</g>

<g id="col-collection" transform="translate(2268,0)">
<g id="h-collection"><text class="h" x="103.5" y="28">Collection</text><text class="s" x="103.5" y="45">17 techniques</text></g>
<g id="co-1" transform="translate(0,55)"><rect class="c" x=".5" y=".5" width="194" height="27"/><rect class="sb" x="195" width="12" height="28"/><use href="#g" x="201" y="14"/><text class="t" x="4" y="19.5">Adversary-in-the-Middle<tspan class="n" dx="3" dy="3">(0/3)</tspan></text></g>
<g id="co-2" transform="translate(0,83)"><rect class="c" x=".5" y=".5" width="194" height="27"/><rect class="sb" x="195" width="12" height="28"/><use href="#g" x="201" y="14"/><text class="t" x="4" y="19.5">Archive Collected Data<tspan class="n" dx="3" dy="3">(0/3)</tspan></text></g>
<g id="co-3" transform="translate(0,111)"><rect class="c" x=".5" y=".5" width="194" height="27"/><text class="t" x="4" y="19.5">Audio Capture</text></g>
<g id="co-4" transform="translate(0,139)"><rect class="c" x=".5" y=".5" width="194" height="27"/><text class="t" x="4" y="19.5">Automated Collection</text></g>
<g id="co-5" transform="translate(0,167)"><rect class="c" x=".5" y=".5" width="194" height="27"/><text class="t" x="4" y="19.5">Browser Session Hijacking</text></g>
<g id="co-6" transform="translate(0,195)"><rect class="c" x=".5" y=".5" width="194" height="27"/><text class="t" x="4" y="19.5">Clipboard Data</text></g>
<g id="co-7" transform="translate(0,223)"><rect class="c" x=".5" y=".5" width="194" height="27"/><text class="t" x="4" y="19.5">Data from Cloud Storage Object</text></g>
<g id="co-8" transform="translate(0,251)"><rect class="c" x=".5" y=".5" width="194" height="41"/><rect class="sb" x="195" width="12" height="42"/><use href="#g" x="201" y="21"/><text class="t" x="4" y="19.5">Data from Configuration<tspan x="4" dy="14">Repository<tspan class="n" dx="3" dy="3">(0/2)</tspan></tspan></text></g>
<g id="co-9" transform="translate(0,293)"><rect class="c" x=".5" y=".5" width="194" height="41"/><rect class="sb" x="195" width="12" height="42"/><use href="#g" x="201" y="21"/><text class="t" x="4" y="19.5">Data from Information<tspan x="4" dy="14">Repositories<tspan class="n" dx="3" dy="3">(0/3)</tspan></tspan></text></g>
<g id="co-10" transform="translate(0,335)"><rect class="c" x=".5" y=".5" width="194" height="27"/><text class="t" x="4" y="19.5">Data from Local System</text></g>
<g id="co-11" transform="translate(0,363)"><rect class="c" x=".5" y=".5" width="194" height="27"/><text class="t" x="4" y="19.5">Data from Network Shared Drive</text></g>
<g id="co-12" transform="translate(0,391)"><rect class="c" x=".5" y=".5" width="194" height="27"/><text class="t" x="4" y="19.5">Data from Removable Media</text></g>
<g id="co-13" transform="translate(0,419)"><rect class="c" x=".5" y=".5" width="194" height="27"/><rect class="sb" x="195" width="12" height="28"/><use href="#g" x="201" y="14"/><text class="t" x="4" y="19.5">Data Staged<tspan class="n" dx="3" dy="3">(0/2)</tspan></text></g>
<g id="co-14" transform="translate(0,447)"><rect class="c" x=".5" y=".5" width="194" height="27"/><rect class="sb" x="195" width="12" height="28"/><use href="#g" x="201" y="14"/><text class="t" x="4" y="19.5">Email Collection<tspan class="n" dx="3" dy="3">(0/3)</tspan></text></g>
<g id="co-15" transform="translate(0,475)"><rect class="c" x=".5" y=".5" width="194" height="27"/><rect class="sb" x="195" width="12" height="28"/><use href="#g" x="201" y="14"/><text class="t" x="4" y="19.5">Input Capture<tspan class="n" dx="3" dy="3">(0/4)</tspan></text></g>
<g id="co-16" transform="translate(0,503)"><rect class="y" width="195" height="28"/><text class="t" x="4" y="19.5">Screen Capture</text></g>
<g id="co-17" transform="translate(0,531)"><rect class="c" x=".5" y=".5" width="194" height="27"/><text class="t" x="4" y="19.5">Video Capture</text></g>
</g>

<g id="col-command-and-control" transform="translate(2479,0)">
<g id="h-command-and-control"><text class="h" x="103" y="28">Command and Control</text><text class="s" x="103" y="45">16 techniques</text></g>
<g id="cc-1" transform="translate(0,55)"><rect class="y" width="194" height="28"/><rect class="sb" x="194" width="12" height="28"/><use href="#g" x="200" y="14"/><text class="t" x="4" y="19.5">Application Layer Protocol<tspan class="n" dx="3" dy="3">(2/4)</tspan></text></g>
<g id="cc-2" transform="translate(0,83)"><rect class="c" x=".5" y=".5" width="193" height="41"/><text class="t" x="4" y="19.5">Communication Through<tspan x="4" dy="14">Removable Media</tspan></text></g>
<g id="cc-3" transform="translate(0,125)"><rect class="c" x=".5" y=".5" width="193" height="27"/><rect class="sb" x="194" width="12" height="28"/><use href="#g" x="200" y="14"/><text class="t" x="4" y="19.5">Data Encoding<tspan class="n" dx="3" dy="3">(0/2)</tspan></text></g>
<g id="cc-4" transform="translate(0,153)"><rect class="c" x=".5" y=".5" width="193" height="27"/><rect class="sb" x="194" width="12" height="28"/><use href="#g" x="200" y="14"/><text class="t" x="4" y="19.5">Data Obfuscation<tspan class="n" dx="3" dy="3">(0/3)</tspan></text></g>
<g id="cc-5" transform="translate(0,181)"><rect class="c" x=".5" y=".5" width="193" height="27"/><rect class="sb" x="194" width="12" height="28"/><use href="#g" x="200" y="14"/><text class="t" x="4" y="19.5">Dynamic Resolution<tspan class="n" dx="3" dy="3">(0/3)</tspan></text></g>
<g id="cc-6" transform="translate(0,209)"><rect class="c" x=".5" y=".5" width="193" height="27"/><rect class="sb" x="194" width="12" height="28"/><use href="#g" x="200" y="14"/><text class="t" x="4" y="19.5">Encrypted Channel<tspan class="n" dx="3" dy="3">(0/2)</tspan></text></g>
<g id="cc-7" transform="translate(0,237)"><rect class="c" x=".5" y=".5" width="193" height="27"/><text class="t" x="4" y="19.5">Fallback Channels</text></g>
<g id="cc-8" transform="translate(0,265)"><rect class="c" x=".5" y=".5" width="193" height="27"/><text class="t" x="4" y="19.5">Ingress Tool Transfer</text></g>
<g id="cc-9" transform="translate(0,293)"><rect class="c" x=".5" y=".5" width="193" height="27"/><text class="t" x="4" y="19.5">Multi-Stage Channels</text></g>
<g id="cc-10" transform="translate(0,321)"><rect class="c" x=".5" y=".5" width="193" height="27"/><text class="t" x="4" y="19.5">Non-Application Layer Protocol</text></g>
<g id="cc-11" transform="translate(0,349)"><rect class="c" x=".5" y=".5" width="193" height="27"/><text class="t" x="4" y="19.5">Non-Standard Port</text></g>
<g id="cc-12" transform="translate(0,377)"><rect class="c" x=".5" y=".5" width="193" height="27"/><text class="t" x="4" y="19.5">Protocol Tunneling</text></g>
<g id="cc-13" transform="translate(0,405)"><rect class="c" x=".5" y=".5" width="193" height="27"/><rect class="sb" x="194" width="12" height="28"/><use href="#g" x="200" y="14"/><text class="t" x="4" y="19.5">Proxy<tspan class="n" dx="3" dy="3">(0/4)</tspan></text></g>
<g id="cc-14" transform="translate(0,433)"><rect class="c" x=".5" y=".5" width="193" height="27"/><text class="t" x="4" y="19.5">Remote Access Software</text></g>
<g id="cc-15" transform="translate(0,461)"><rect class="c" x=".5" y=".5" width="193" height="27"/><rect class="sb" x="194" width="12" height="28"/><use href="#g" x="200" y="14"/><text class="t" x="4" y="19.5">Traffic Signaling<tspan class="n" dx="3" dy="3">(0/1)</tspan></text></g>
<g id="cc-16" transform="translate(0,489)"><rect class="c" x=".5" y=".5" width="193" height="27"/><rect class="sb" x="194" width="12" height="28"/><use href="#g" x="200" y="14"/><text class="t" x="4" y="19.5">Web Service<tspan class="n" dx="3" dy="3">(0/3)</tspan></text></g>
</g>

<g id="col-exfiltration" transform="translate(2690,0)">
<g id="h-exfiltration"><text class="h" x="99.5" y="28">Exfiltration</text><text class="s" x="99.5" y="45">9 techniques</text></g>
<g id="ef-1" transform="translate(0,55)"><rect class="c" x=".5" y=".5" width="186" height="27"/><rect class="sb" x="187" width="12" height="28"/><use href="#g" x="193" y="14"/><text class="t" x="4" y="19.5">Automated Exfiltration<tspan class="n" dx="3" dy="3">(0/1)</tspan></text></g>
<g id="ef-2" transform="translate(0,83)"><rect class="c" x=".5" y=".5" width="186" height="27"/><text class="t" x="4" y="19.5">Data Transfer Size Limits</text></g>
<g id="ef-3" transform="translate(0,111)"><rect class="c" x=".5" y=".5" width="186" height="41"/><rect class="sb" x="187" width="12" height="42"/><use href="#g" x="193" y="21"/><text class="t" x="4" y="19.5">Exfiltration Over Alternative<tspan x="4" dy="14">Protocol<tspan class="n" dx="3" dy="3">(0/3)</tspan></tspan></text></g>
<g id="ef-4" transform="translate(0,153)"><rect class="y" width="187" height="28"/><text class="t" x="4" y="19.5">Exfiltration Over C2 Channel</text></g>
<g id="ef-5" transform="translate(0,181)"><rect class="c" x=".5" y=".5" width="186" height="41"/><rect class="sb" x="187" width="12" height="42"/><use href="#g" x="193" y="21"/><text class="t" x="4" y="19.5">Exfiltration Over Other Network<tspan x="4" dy="14">Medium<tspan class="n" dx="3" dy="3">(0/1)</tspan></tspan></text></g>
<g id="ef-6" transform="translate(0,223)"><rect class="c" x=".5" y=".5" width="186" height="41"/><rect class="sb" x="187" width="12" height="42"/><use href="#g" x="193" y="21"/><text class="t" x="4" y="19.5">Exfiltration Over Physical<tspan x="4" dy="14">Medium<tspan class="n" dx="3" dy="3">(0/1)</tspan></tspan></text></g>
<g id="ef-7" transform="translate(0,265)"><rect class="c" x=".5" y=".5" width="186" height="41"/><rect class="sb" x="187" width="12" height="42"/><use href="#g" x="193" y="21"/><text class="t" x="4" y="19.5">Exfiltration Over Web<tspan x="4" dy="14">Service<tspan class="n" dx="3" dy="3">(0/2)</tspan></tspan></text></g>
<g id="ef-8" transform="translate(0,307)"><rect class="c" x=".5" y=".5" width="186" height="27"/><text class="t" x="4" y="19.5">Scheduled Transfer</text></g>
<g id="ef-9" transform="translate(0,335)"><rect class="c" x=".5" y=".5" width="186" height="27"/><text class="t" x="4" y="19.5">Transfer Data to Cloud Account</text></g>
</g>

<g id="col-impact" transform="translate(2893,0)">
<g id="h-impact"><text class="h" x="110" y="28">Impact</text><text class="s" x="110" y="45">13 techniques</text></g>
<g id="im-1" transform="translate(0,55)"><rect class="y" width="208" height="28"/><text class="t" x="4" y="19.5">Account Access Removal</text></g>
<g id="im-2" transform="translate(0,83)"><rect class="y" width="208" height="28"/><text class="t" x="4" y="19.5">Data Destruction</text></g>
<g id="im-3" transform="translate(0,111)"><rect class="c" x=".5" y=".5" width="207" height="27"/><text class="t" x="4" y="19.5">Data Encrypted for Impact</text></g>
<g id="im-4" transform="translate(0,139)"><rect class="y" width="208" height="28"/><rect class="sb" x="208" width="12" height="28"/><use href="#g" x="214" y="14"/><text class="t" x="4" y="19.5">Data Manipulation<tspan class="n" dx="3" dy="3">(2/3)</tspan></text></g>
<g id="im-5" transform="translate(0,167)"><rect class="c" x=".5" y=".5" width="207" height="27"/><rect class="sb" x="208" width="12" height="28"/><use href="#g" x="214" y="14"/><text class="t" x="4" y="19.5">Defacement<tspan class="n" dx="3" dy="3">(0/2)</tspan></text></g>
<g id="im-6" transform="translate(0,195)"><rect class="c" x=".5" y=".5" width="207" height="27"/><rect class="sb" x="208" width="12" height="28"/><use href="#g" x="214" y="14"/><text class="t" x="4" y="19.5">Disk Wipe<tspan class="n" dx="3" dy="3">(0/2)</tspan></text></g>
<g id="im-7" transform="translate(0,223)"><rect class="c" x=".5" y=".5" width="207" height="27"/><rect class="sb" x="208" width="12" height="28"/><use href="#g" x="214" y="14"/><text class="t" x="4" y="19.5">Endpoint Denial of Service<tspan class="n" dx="3" dy="3">(0/4)</tspan></text></g>
<g id="im-8" transform="translate(0,251)"><rect class="c" x=".5" y=".5" width="207" height="27"/><text class="t" x="4" y="19.5">Firmware Corruption</text></g>
<g id="im-9" transform="translate(0,279)"><rect class="c" x=".5" y=".5" width="207" height="27"/><text class="t" x="4" y="19.5">Inhibit System Recovery</text></g>
<g id="im-10" transform="translate(0,307)"><rect class="c" x=".5" y=".5" width="207" height="27"/><rect class="sb" x="208" width="12" height="28"/><use href="#g" x="214" y="14"/><text class="t" x="4" y="19.5">Network Denial of Service<tspan class="n" dx="3" dy="3">(0/2)</tspan></text></g>
<g id="im-11" transform="translate(0,335)"><rect class="c" x=".5" y=".5" width="207" height="27"/><text class="t" x="4" y="19.5">Resource Hijacking</text></g>
<g id="im-12" transform="translate(0,363)"><rect class="c" x=".5" y=".5" width="207" height="27"/><text class="t" x="4" y="19.5">Service Stop</text></g>
<g id="im-13" transform="translate(0,391)"><rect class="c" x=".5" y=".5" width="207" height="27"/><text class="t" x="4" y="19.5">System Shutdown/Reboot</text></g>
</g>
</svg>
